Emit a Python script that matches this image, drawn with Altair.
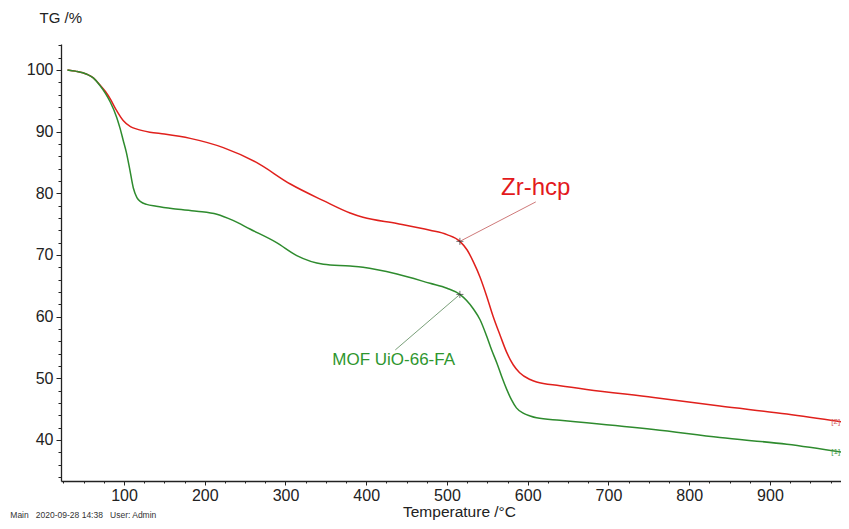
import altair as alt
import pandas as pd

# Zr-hcp (red) curve
red_T = [30, 40, 54, 62, 70, 77, 83, 90, 99, 108, 116, 132, 150, 182, 223, 264, 306, 347, 380, 396,
         438, 479, 500, 516, 525, 533, 541, 549, 557, 566, 574, 582, 590, 603, 611, 640, 673, 756, 838, 921, 995]
red_W = [100, 99.8, 99.3, 98.7, 97.6, 96.5, 95.3, 93.6, 91.8, 90.8, 90.4, 89.9, 89.6, 88.9, 87.4, 85.0, 81.5, 78.8, 76.8, 76.1,
         75.1, 74.0, 73.3, 72.2, 70.8, 68.8, 66.4, 63.4, 60.1, 56.9, 54.2, 52.2, 50.9, 49.8, 49.4, 48.8, 48.2, 46.9, 45.5, 44.2, 42.8]

# MOF UiO-66-FA (green) curve
green_T = [30, 40, 54, 62, 70, 77, 83, 91, 95, 99, 103, 107, 111.5, 116, 121, 128, 140, 161, 190, 215, 235, 256, 289, 314,
           347, 380, 396, 438, 479, 500, 516, 533, 541, 549, 555, 562, 568, 574, 580, 586, 595, 603, 611, 640, 673, 756, 838, 921, 995]
green_W = [100, 99.8, 99.3, 98.7, 97.5, 96.2, 94.8, 92.3, 90.6, 88.6, 86.6, 84.0, 80.9, 79.3, 78.6, 78.2, 77.9, 77.5, 77.1, 76.6, 75.6, 74.2, 72.0, 69.9,
           68.5, 68.2, 68.0, 66.9, 65.4, 64.6, 63.6, 61.2, 59.5, 56.9, 54.7, 52.4, 50.2, 48.2, 46.5, 45.2, 44.3, 43.9, 43.6, 43.2, 42.8, 41.7, 40.4, 39.3, 37.9]

series_names = ["Zr-hcp", "MOF UiO-66-FA"]
series_colors = ["#e0201c", "#2e8b2e"]

# annotation points (marker "+", leader end, label centre)
mark_T = [516, 516]
mark_W = [72.2, 63.6]
lead_T = [610, 436]
lead_W = [78.6, 54.6]
label_T = [610, 434]
label_W = [80.9, 53.0]
end_labels = ["[2]", "[1]"]
end_T = [987, 987]
end_W = [42.9, 38.0]

x_ticks = list(range(25, 1000, 25))
y_ticks = list(range(34, 105, 2))

FONT = "Liberation Sans"
AX = "#222222"

df = pd.concat([
    pd.DataFrame({"T": red_T, "W": red_W, "s": series_names[0]}),
    pd.DataFrame({"T": green_T, "W": green_W, "s": series_names[1]}),
])

xscale = alt.Scale(domain=[22, 988], nice=False, zero=False)
yscale = alt.Scale(domain=[33.35, 104.2], nice=False, zero=False)

xaxis = alt.Axis(
    values=x_ticks,
    labelExpr="datum.value % 100 === 0 ? datum.label : ''",
    tickSize={"condition": {"test": "datum.value % 100 === 0", "value": 4}, "value": 2},
    grid=False, domainColor=AX, tickColor=AX, domainWidth=1.3, tickWidth=1,
    labelFontSize=16, labelColor=AX, labelFont=FONT, labelPadding=2,
    labelOverlap=False, labelFlush=False, labelBound=False,
    title="Temperature /°C", titleFontSize=15.5, titleFont=FONT, titleFontWeight="normal",
    titleColor=AX, titleX=398, titleY=35, titleBaseline="alphabetic",
)
yaxis = alt.Axis(
    values=y_ticks,
    labelExpr="datum.value % 10 === 0 ? datum.label : ''",
    tickSize={"condition": {"test": "datum.value % 10 === 0", "value": 5}, "value": 3},
    grid=False, domainColor=AX, tickColor=AX, domainWidth=1.3, tickWidth=1,
    labelFontSize=16, labelColor=AX, labelFont=FONT, labelPadding=3,
    labelOverlap=False, labelFlush=False, labelBound=False,
    title="TG /%", titleFontSize=15, titleFont=FONT, titleFontWeight="normal",
    titleColor=AX, titleAngle=0, titleAlign="left", titleBaseline="middle",
    titleX=-22, titleY=-27,
)


def ex(field):
    return alt.X(field, type="quantitative", scale=xscale, axis=xaxis)


def ey(field):
    return alt.Y(field, type="quantitative", scale=yscale, axis=yaxis)


lines = alt.Chart(df).mark_line(strokeWidth=1.5, clip=True, interpolate="monotone").encode(
    x=ex("T"), y=ey("W"),
    color=alt.Color("s:N", scale=alt.Scale(domain=series_names, range=series_colors), legend=None),
)

ann = pd.DataFrame({"T": mark_T, "W": mark_W, "T2": lead_T, "W2": lead_W,
                    "LT": label_T, "LW": label_W, "name": series_names})

leader_red = alt.Chart(ann.iloc[[0]]).mark_rule(color="#c86a6a", strokeWidth=0.9).encode(
    x=ex("T"), y=ey("W"), x2="T2:Q", y2="W2:Q")
leader_green = alt.Chart(ann.iloc[[1]]).mark_rule(color="#6a946a", strokeWidth=0.9).encode(
    x=ex("T"), y=ey("W"), x2="T2:Q", y2="W2:Q")

markers = alt.Chart(ann).mark_point(shape="M-1,0L1,0M0,-1L0,1", size=50, filled=False,
                                    color="#333333", strokeWidth=1).encode(x=ex("T"), y=ey("W"))

label_red = alt.Chart(ann.iloc[[0]]).mark_text(font=FONT, fontSize=24, color="#e3191c",
                                               baseline="middle").encode(x=ex("LT"), y=ey("LW"), text="name:N")
label_green = alt.Chart(ann.iloc[[1]]).mark_text(font=FONT, fontSize=17, color="#2e962e",
                                                 baseline="middle").encode(x=ex("LT"), y=ey("LW"), text="name:N")

ends = pd.DataFrame({"T": end_T, "W": end_W, "t": end_labels, "s": series_names})
end_text = alt.Chart(ends).mark_text(font=FONT, fontSize=8, align="right", baseline="middle").encode(
    x=ex("T"), y=ey("W"), text="t:N",
    color=alt.Color("s:N", scale=alt.Scale(domain=series_names, range=["#d06060", "#4a9a4a"]), legend=None),
)

chart = alt.layer(lines, leader_red, leader_green, markers, label_red, label_green, end_text).resolve_scale(
    color="independent"
).properties(
    width=780, height=437,
    background="white",
    autosize=alt.AutoSizeParams(type="none"),
    padding={"left": 53, "top": 36, "right": 0, "bottom": 40},
    title=alt.TitleParams("Main\u00a0\u00a0\u00a02020-09-28 14:38\u00a0\u00a0\u00a0User: Admin", orient="bottom",
                          anchor="start", frame="bounds", fontSize=8.5, font=FONT, fontWeight="normal",
                          color="#333333", offset=0, dx=-16, dy=-9),
).configure_view(stroke=None)

chart.save("out.html", embed_options={"renderer": "svg", "actions": False})
